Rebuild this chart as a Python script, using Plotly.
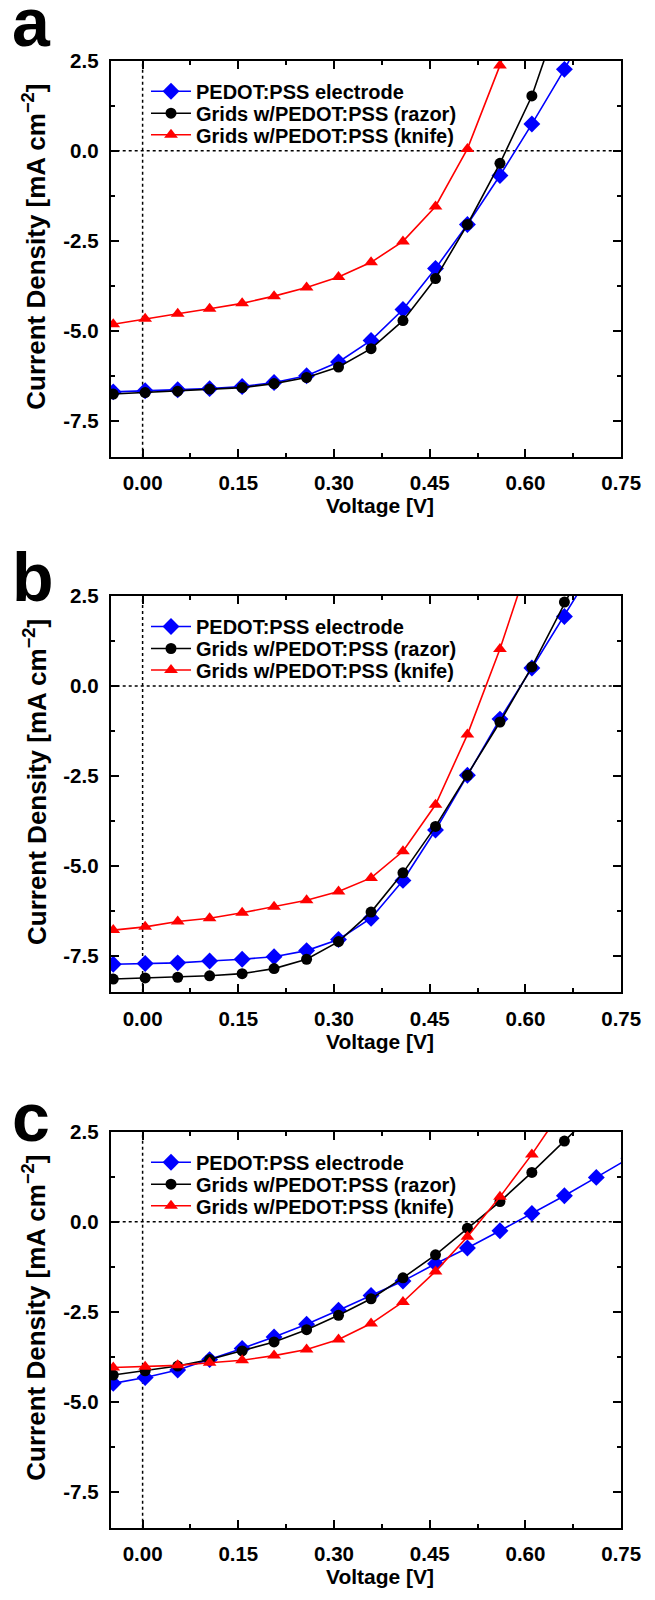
import plotly.graph_objects as go

# ---------------- data ----------------
voltage = [-0.046, 0.004, 0.055, 0.105, 0.156, 0.206, 0.257, 0.307, 0.358,
           0.408, 0.459, 0.509, 0.560, 0.610, 0.661, 0.711, 0.762]

series_names = ["PEDOT:PSS electrode", "Grids w/PEDOT:PSS (razor)", "Grids w/PEDOT:PSS (knife)"]

# panel a
a_pedot = [-6.70, -6.67, -6.64, -6.61, -6.55, -6.44, -6.25, -5.87, -5.27,
           -4.41, -3.27, -2.05, -0.69, 0.74, 2.26, 3.90]
a_razor = [-6.76, -6.72, -6.68, -6.62, -6.58, -6.47, -6.30, -6.01, -5.50,
           -4.72, -3.55, -2.05, -0.35, 1.52, 4.15]
a_knife = [-4.82, -4.67, -4.53, -4.39, -4.24, -4.04, -3.80, -3.51, -3.10,
           -2.52, -1.55, 0.05, 2.37, 5.00]

# panel b
b_pedot = [-7.73, -7.71, -7.69, -7.64, -7.59, -7.52, -7.35, -7.04, -6.45,
           -5.40, -4.00, -2.48, -0.92, 0.50, 1.93, 3.40]
b_razor = [-8.14, -8.11, -8.09, -8.05, -7.99, -7.85, -7.59, -7.10, -6.28,
           -5.19, -3.90, -2.48, -1.00, 0.53, 2.33, 4.00]
b_knife = [-6.78, -6.69, -6.54, -6.45, -6.30, -6.13, -5.95, -5.71, -5.33,
           -4.59, -3.30, -1.35, 1.03, 3.70]

# panel c
c_pedot = [-4.49, -4.33, -4.12, -3.83, -3.52, -3.20, -2.85, -2.46, -2.05,
           -1.65, -1.17, -0.73, -0.25, 0.23, 0.72, 1.23, 1.76]
c_razor = [-4.26, -4.14, -4.01, -3.83, -3.59, -3.34, -3.00, -2.60, -2.14,
           -1.56, -0.92, -0.18, 0.56, 1.37, 2.24, 3.10]
c_knife = [-4.05, -4.03, -3.99, -3.92, -3.85, -3.72, -3.55, -3.27, -2.83,
           -2.23, -1.38, -0.42, 0.69, 1.87, 3.20]

panel_labels = ["a", "b", "c"]
panel_series = [(a_pedot, a_razor, a_knife),
                (b_pedot, b_razor, b_knife),
                (c_pedot, c_razor, c_knife)]

x_tickvals = [0.0, 0.15, 0.30, 0.45, 0.60, 0.75]
x_ticktext = ["0.00", "0.15", "0.30", "0.45", "0.60", "0.75"]
y_tickvals = [2.5, 0.0, -2.5, -5.0, -7.5]
y_ticktext = ["2.5", "0.0", "-2.5", "-5.0", "-7.5"]

x_title = "Voltage [V]"
y_title = "Current Density [mA cm<sup>−2</sup>]"

# ---------------- styling ----------------
W, H = 655, 1600
OFF = 8  # the page body adds an 8px margin; positions below are page pixels
FONT = "Liberation Sans, Arial, sans-serif"
colors = ["#0000FF", "#000000", "#FF0000"]
symbols = ["diamond", "circle", "triangle-up"]
msizes = [13, 11, 12]


def px(xp):
    return (xp - OFF) / W


def py(yp):
    return 1 - (yp - OFF) / H


x_left, x_right = 110.7, 621.2
panel_tops = [60.7, 596.0, 1131.7]
panel_h = 396.0
letter_mid = [22.5, 577.0, 1116.5]
legend_rows = [30.0, 52.0, 73.5]   # row centres below each panel top

fig = go.Figure()

for i, label in enumerate(panel_labels):
    sfx = "" if i == 0 else str(i + 1)
    xa, ya = "x" + sfx, "y" + sfx
    top = panel_tops[i]
    bot = top + panel_h

    for j, ys in enumerate(panel_series[i]):
        n = i * 3 + j + 1
        leg = "legend" if n == 1 else "legend" + str(n)
        fig.add_trace(go.Scatter(
            x=voltage[:len(ys)], y=ys, mode="lines+markers",
            name=series_names[j], xaxis=xa, yaxis=ya, legend=leg,
            line=dict(color=colors[j], width=1.6),
            marker=dict(symbol=symbols[j], size=msizes[j], color=colors[j]),
            cliponaxis=True,
        ))
        fig.layout[leg] = dict(
            x=px(146), y=py(top + legend_rows[j] - 19), xanchor="left", yanchor="top",
            bgcolor="rgba(0,0,0,0)", borderwidth=0,
            font=dict(family=FONT, size=20, color="black", weight="bold"),
            itemwidth=40,
        )

    axis_common = dict(
        showline=True, linecolor="black", linewidth=2, mirror="allticks",
        ticks="inside", ticklen=8, tickwidth=2, tickcolor="black",
        showgrid=False, zeroline=False, automargin=False,
        tickfont=dict(family=FONT, size=20.5, color="black", weight="bold"),
    )
    fig.layout["xaxis" + sfx] = dict(
        domain=[px(x_left), px(x_right)], anchor=ya, range=[-0.05, 0.75],
        tickmode="array", tickvals=x_tickvals, ticktext=x_ticktext,
        minor=dict(tickmode="linear", tick0=0.075, dtick=0.15, ticks="inside",
                   ticklen=4, tickwidth=2, tickcolor="black"),
        ticklabelstandoff=7,
        **axis_common)
    fig.layout["yaxis" + sfx] = dict(
        domain=[py(bot), py(top)], anchor=xa, range=[-8.5, 2.5],
        tickmode="array", tickvals=y_tickvals, ticktext=y_ticktext,
        minor=dict(tickmode="linear", tick0=1.25, dtick=2.5, ticks="inside",
                   ticklen=4, tickwidth=2, tickcolor="black"),
        ticklabelstandoff=6,
        **axis_common)

    # reference dotted lines at V=0 and J=0
    fig.add_shape(type="line", xref=xa, yref=ya + " domain", x0=0, x1=0, y0=0, y1=1,
                  line=dict(color="black", width=1.5, dash="3px,3px"), layer="below")
    fig.add_shape(type="line", xref=xa + " domain", yref=ya, x0=0, x1=1, y0=0, y1=0,
                  line=dict(color="black", width=1.5, dash="3px,3px"), layer="below")

    # axis titles
    fig.add_annotation(x=px(380), y=py(bot + 49),
                       xref="paper", yref="paper", showarrow=False,
                       text=x_title, xanchor="center", yanchor="middle",
                       font=dict(family=FONT, size=21, color="black", weight="bold"))
    fig.add_annotation(x=px(35), y=py(top + 186),
                       xref="paper", yref="paper", showarrow=False,
                       text=y_title, textangle=-90, xanchor="center", yanchor="middle",
                       font=dict(family=FONT, size=26, color="black", weight="bold"))
    # panel letter
    fig.add_annotation(x=px(10), y=py(letter_mid[i]),
                       xref="paper", yref="paper", showarrow=False,
                       text=label, xanchor="left", yanchor="middle",
                       font=dict(family=FONT, size=68, color="black", weight="bold"))

fig.update_layout(
    width=W, height=H, margin=dict(l=0, r=0, t=0, b=0),
    paper_bgcolor="white", plot_bgcolor="white", showlegend=True,
)

fig.write_html("out.html")
